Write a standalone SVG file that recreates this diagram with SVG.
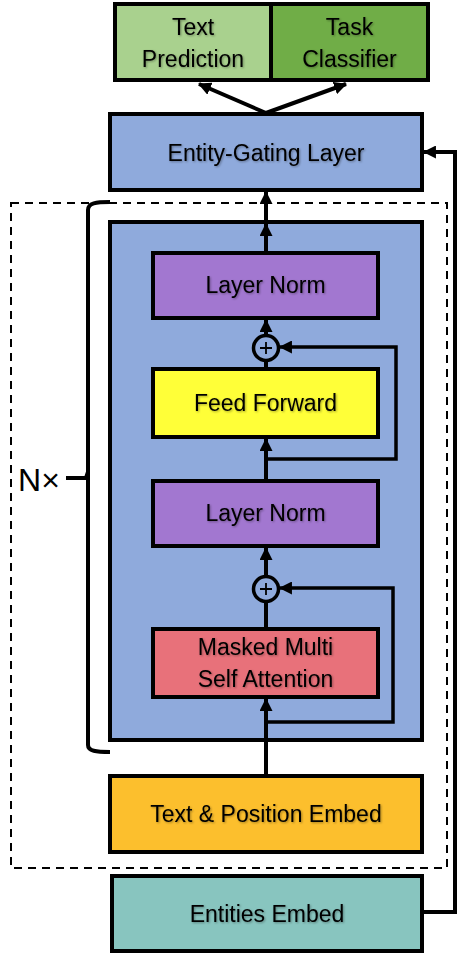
<svg xmlns="http://www.w3.org/2000/svg" width="464" height="956" viewBox="0 0 464 956">
<defs>
<style>
.box{stroke:#000;stroke-width:4}
.t{font-family:"Liberation Sans",Arial,sans-serif;font-size:23px;fill:#000;text-anchor:middle;filter:url(#sh)}
.c{fill:none;stroke:#000;stroke-width:4}
.thin{fill:none;stroke:#000;stroke-width:3.5}
</style>
<filter id="sh" x="-10%" y="-30%" width="120%" height="160%">
<feDropShadow dx="1" dy="1" stdDeviation="0.8" flood-color="#000" flood-opacity="0.35"/>
</filter>
<marker id="ah" viewBox="0 0 12 12" refX="11" refY="6" markerWidth="13" markerHeight="13" markerUnits="userSpaceOnUse" orient="auto">
<path d="M0,0 L12,6 L0,12 z" fill="#000"/>
</marker>
</defs>
<rect width="464" height="956" fill="#fff"/>

<!-- dashed outer frame -->
<rect x="11" y="203" width="436" height="665" fill="none" stroke="#000" stroke-width="2" stroke-dasharray="8,6"/>

<!-- brace -->
<path d="M110,202 C96,202 88,203 88,210 L88,745 C88,751 96,752 110,752" fill="none" stroke="#000" stroke-width="4"/>
<path d="M66,478 L86,478 L88,472" fill="none" stroke="#000" stroke-width="4"/>
<text x="39" y="491" font-family="'Liberation Sans',Arial,sans-serif" font-size="32" text-anchor="middle" fill="#000">N×</text>

<g id="textPrediction">
<rect class="box" x="115" y="4" width="156" height="76" fill="#A9D18E"/>
<text class="t" x="193" y="35">Text</text>
<text class="t" x="193" y="67">Prediction</text>
</g>
<g id="taskClassifier">
<rect class="box" x="271" y="4" width="157" height="76" fill="#70AD47"/>
<text class="t" x="349.5" y="35">Task</text>
<text class="t" x="349.5" y="67">Classifier</text>
</g>
<g id="entityGating">
<rect class="box" x="110" y="114" width="312" height="76" fill="#8FAADC"/>
<text class="t" x="266" y="161">Entity-Gating Layer</text>
</g>
<g id="decoderBlock">
<rect class="box" x="110" y="222" width="312" height="518" fill="#8FAADC"/>
</g>
<g id="layerNorm1">
<rect class="box" x="153" y="253" width="225" height="65" fill="#A277D0"/>
<text class="t" x="265.5" y="293">Layer Norm</text>
</g>
<g id="add1">
<circle cx="266" cy="348" r="12.5" fill="none" stroke="#000" stroke-width="3.5"/>
<path d="M260,348 H272 M266,342 V354" stroke="#000" stroke-width="1.8"/>
</g>
<g id="feedForward">
<rect class="box" x="153" y="369" width="225" height="68" fill="#FFFF38"/>
<text class="t" x="265.5" y="411">Feed Forward</text>
</g>
<g id="layerNorm2">
<rect class="box" x="153" y="481" width="225" height="65" fill="#A277D0"/>
<text class="t" x="265.5" y="521">Layer Norm</text>
</g>
<g id="add2">
<circle cx="266" cy="589" r="12.5" fill="none" stroke="#000" stroke-width="3.5"/>
<path d="M260,589 H272 M266,583 V595" stroke="#000" stroke-width="1.8"/>
</g>
<g id="maskedAttention">
<rect class="box" x="153" y="629" width="225" height="68" fill="#E8717A"/>
<text class="t" x="265.5" y="655">Masked Multi</text>
<text class="t" x="265.5" y="687">Self Attention</text>
</g>
<g id="textPositionEmbed">
<rect class="box" x="110" y="776" width="312" height="76" fill="#FCBF2D"/>
<text class="t" x="266" y="822">Text &amp; Position Embed</text>
</g>
<g id="entitiesEmbed">
<rect class="box" x="112" y="876" width="310" height="75" fill="#88C5BF"/>
<text class="t" x="267" y="922">Entities Embed</text>
</g>

<g id="connectors">
<path class="c" d="M266,113 L199,84" marker-end="url(#ah)"/>
<path class="c" d="M266,113 L346,84" marker-end="url(#ah)"/>
<path class="c" d="M266,220 L266,192" marker-end="url(#ah)"/>
<path class="c" d="M266,251 L266,224" marker-end="url(#ah)"/>
<path class="c" d="M266,335 L266,320" marker-end="url(#ah)"/>
<path class="c" d="M266,367 L266,361"/>
<path class="c" d="M266,479 L266,439" marker-end="url(#ah)"/>
<path class="thin" d="M266,459 H396 V347 H280" marker-end="url(#ah)"/>
<path class="c" d="M266,576 L266,548" marker-end="url(#ah)"/>
<path class="c" d="M266,627 L266,602"/>
<path class="c" d="M266,774 L266,699" marker-end="url(#ah)"/>
<path class="thin" d="M266,722 H393 V588 H280" marker-end="url(#ah)"/>
<path class="c" d="M424,912 H455 V152 H424" marker-end="url(#ah)"/>
</g>
</svg>
